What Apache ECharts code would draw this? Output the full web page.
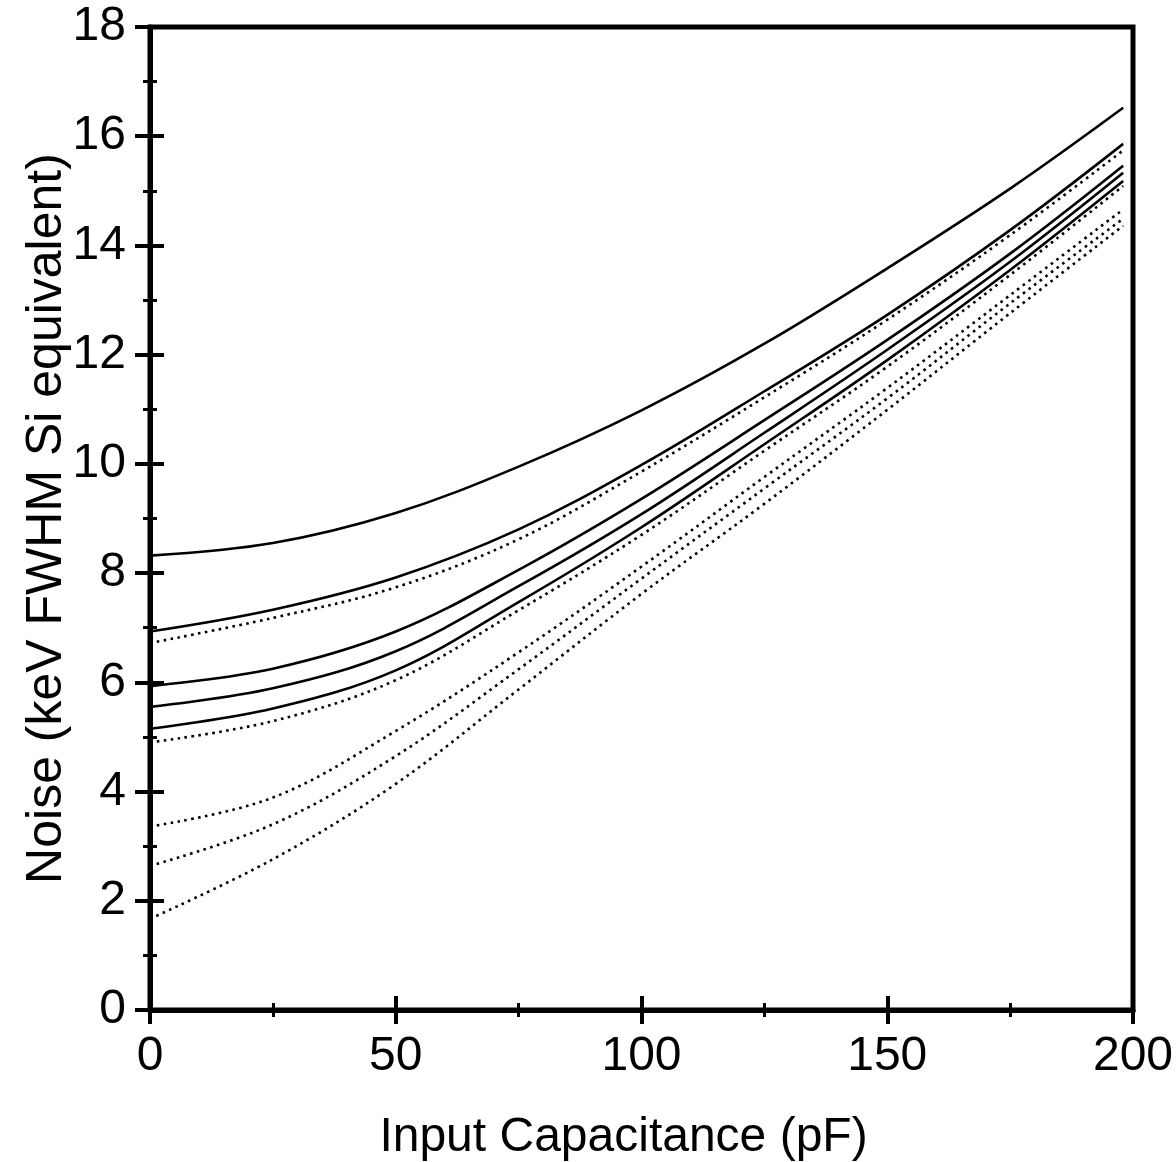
<!DOCTYPE html>
<html>
<head>
<meta charset="utf-8">
<script src="https://cdn.jsdelivr.net/npm/echarts@6/dist/echarts.min.js"></script>
<style>
html,body{margin:0;padding:0;background:#fff;}
#chart{width:1176px;height:1162px;}
</style>
</head>
<body>
<div id="chart"></div>
<script>
// Input capacitance (pF) sample points
var capacitance = [0, 25, 50, 75, 100, 125, 150, 175, 198];

// Solid curves (keV FWHM)
var solid1 = [8.32, 8.55, 9.10, 9.95, 10.98, 12.20, 13.58, 15.04, 16.52];
var solid2 = [6.93, 7.33, 7.92, 8.80, 9.98, 11.33, 12.73, 14.28, 15.86];
var solid3 = [5.93, 6.25, 6.93, 8.06, 9.36, 10.80, 12.27, 13.85, 15.46];
var solid4 = [5.55, 5.89, 6.57, 7.76, 9.08, 10.57, 12.09, 13.70, 15.33];
var solid5 = [5.15, 5.52, 6.22, 7.47, 8.84, 10.36, 11.90, 13.55, 15.18];

// Dotted curves (keV FWHM)
var dotted1 = [6.72, 7.18, 7.74, 8.62, 9.86, 11.22, 12.64, 14.19, 15.74];
var dotted2 = [4.90, 5.29, 6.04, 7.32, 8.70, 10.24, 11.78, 13.46, 15.09];
var dotted3 = [3.36, 3.89, 5.11, 6.55, 8.12, 9.76, 11.39, 13.09, 14.66];
var dotted4 = [2.64, 3.40, 4.65, 6.24, 7.90, 9.55, 11.20, 12.94, 14.49];
var dotted5 = [1.67, 2.76, 4.14, 5.87, 7.62, 9.27, 10.99, 12.76, 14.36];

var xTicks = [0, 50, 100, 150, 200];
var yTicks = [0, 2, 4, 6, 8, 10, 12, 14, 16, 18];

var xTitle = 'Input Capacitance (pF)';
var yTitle = 'Noise (keV FWHM Si equivalent)';

var FONT = "'Liberation Sans', Arial, Helvetica, sans-serif";

function pairs(ys) {
  return capacitance.map(function (x, i) { return [x, ys[i]]; });
}

function mkSeries(ys, dotted) {
  return {
    type: 'line',
    data: pairs(ys),
    smooth: 0.36,
    showSymbol: false,
    silent: true,
    xAxisIndex: 0,
    yAxisIndex: 0,
    lineStyle: {
      color: '#000',
      width: 2.6,
      type: dotted ? [2.6, 4.4] : 'solid',
      cap: 'butt'
    }
  };
}

var chart = echarts.init(document.getElementById('chart'), null, {renderer: 'canvas'});

var baseX = {
  type: 'value',
  min: xTicks[0],
  max: xTicks[xTicks.length - 1],
  interval: xTicks[1] - xTicks[0],
  position: 'bottom',
  splitLine: {show: false}
};
var baseY = {
  type: 'value',
  min: yTicks[0],
  max: yTicks[yTicks.length - 1],
  interval: yTicks[1] - yTicks[0],
  position: 'left',
  splitLine: {show: false}
};

var option = {
  animation: false,
  backgroundColor: '#fff',
  grid: {
    left: 150, right: 43, top: 27, bottom: 152,
    containLabel: false,
    outerBoundsMode: 'none',
    show: true, borderColor: '#000', borderWidth: 5, backgroundColor: 'transparent'
  },
  xAxis: [
    Object.assign({}, baseX, {
      name: xTitle,
      nameLocation: 'middle',
      nameGap: 104,
      nameMoveOverlap: false,
      nameTextStyle: {fontSize: 48, color: '#000', fontFamily: FONT, padding: [0, 36, 0, 0]},
      axisLine: {show: true, lineStyle: {color: '#000', width: 5}},
      axisTick: {show: true, inside: false, length: 14, lineStyle: {color: '#000', width: 4}},
      minorTick: {show: true, splitNumber: 2, length: 7, lineStyle: {color: '#000', width: 3}},
      axisLabel: {fontSize: 48, color: '#000', fontFamily: FONT, margin: 23}
    }),
    Object.assign({}, baseX, {
      axisLine: {show: false},
      axisTick: {show: true, inside: true, length: 14, lineStyle: {color: '#000', width: 4}},
      minorTick: {show: true, splitNumber: 2, length: 7, lineStyle: {color: '#000', width: 3}},
      axisLabel: {show: false}
    })
  ],
  yAxis: [
    Object.assign({}, baseY, {
      name: yTitle,
      nameLocation: 'middle',
      nameGap: 78,
      nameMoveOverlap: false,
      nameTextStyle: {fontSize: 50, color: '#000', fontFamily: FONT},
      axisLine: {show: true, lineStyle: {color: '#000', width: 5}},
      axisTick: {show: true, inside: false, length: 15, lineStyle: {color: '#000', width: 4}},
      minorTick: {show: true, splitNumber: 2, length: 7, lineStyle: {color: '#000', width: 3}},
      axisLabel: {fontSize: 48, color: '#000', fontFamily: FONT, margin: 24}
    }),
    Object.assign({}, baseY, {
      axisLine: {show: false},
      axisTick: {show: true, inside: true, length: 14, lineStyle: {color: '#000', width: 4}},
      minorTick: {show: true, splitNumber: 2, length: 7, lineStyle: {color: '#000', width: 3}},
      axisLabel: {show: false}
    })
  ],
  series: [
    mkSeries(solid1, false),
    mkSeries(solid2, false),
    mkSeries(solid3, false),
    mkSeries(solid4, false),
    mkSeries(solid5, false),
    mkSeries(dotted1, true),
    mkSeries(dotted2, true),
    mkSeries(dotted3, true),
    mkSeries(dotted4, true),
    mkSeries(dotted5, true)
  ]
};

chart.setOption(option);
</script>
</body>
</html>
